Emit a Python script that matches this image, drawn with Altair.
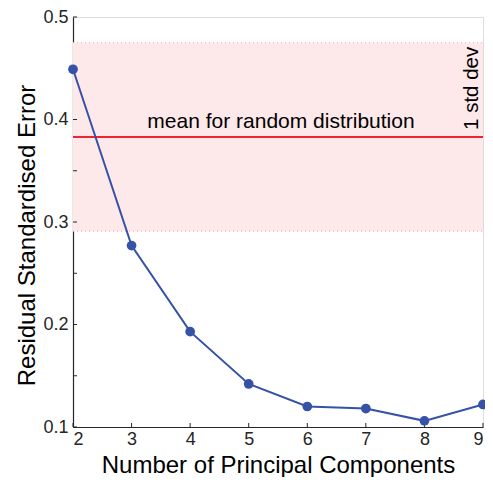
import altair as alt
import pandas as pd

components = [2, 3, 4, 5, 6, 7, 8, 9]
residual_error = [0.449, 0.277, 0.193, 0.142, 0.120, 0.118, 0.106, 0.122]
random_mean = 0.383
random_std_low = 0.291
random_std_high = 0.475
y_ticks = [0.1, 0.15, 0.2, 0.25, 0.3, 0.35, 0.4, 0.45, 0.5]
x_ticks = [2, 3, 4, 5, 6, 7, 8, 9]

FONT = "Liberation Sans"
AXIS_COLOR = "#262626"

df = pd.DataFrame({"n": components, "err": residual_error})
band_df = pd.DataFrame({"lo": [random_std_low], "hi": [random_std_high], "m": [random_mean]})
ytick_df = pd.DataFrame({"v": y_ticks})
xtick_df = pd.DataFrame({"v": x_ticks})

xscale = alt.Scale(domain=[2, 9], nice=False, zero=False)
yscale = alt.Scale(domain=[0.1, 0.5], nice=False, zero=False)

x_axis = alt.Axis(values=x_ticks, format="d", tickSize=0, labelPadding=3, labelFontSize=18,
                  labelFont=FONT, labelColor=AXIS_COLOR, domainColor=AXIS_COLOR,
                  domainWidth=1.2, grid=False, title="Number of Principal Components",
                  titleFont=FONT, titleFontSize=24, titleFontWeight="normal",
                  titleColor="black", titleBaseline="alphabetic", titleAlign="center",
                  titleX=205, titleY=45)
y_axis = alt.Axis(values=y_ticks, tickSize=0, labelPadding=5, labelFontSize=18,
                  labelFont=FONT, labelColor=AXIS_COLOR, domainColor=AXIS_COLOR,
                  domainWidth=1.2, grid=False,
                  labelExpr="abs(datum.value*10 - round(datum.value*10)) < 0.001 ? format(datum.value, '.1f') : ''",
                  title="Residual Standardised Error", titleFont=FONT, titleFontSize=24,
                  titleFontWeight="normal", titleColor="black", titleBaseline="alphabetic",
                  titleAlign="center", titleAngle=270, titleX=-39, titleY=218)

band = alt.Chart(band_df).mark_rect(color="#fde8ea").encode(
    y=alt.Y("lo:Q", scale=yscale, axis=y_axis),
    y2="hi:Q",
    x=alt.value(0), x2=alt.value(410),
)
band_edge_lo = alt.Chart(band_df).mark_rule(color="#f7a1aa", strokeDash=[1, 3], strokeWidth=1).encode(
    y=alt.Y("lo:Q", scale=yscale), x=alt.value(0), x2=alt.value(410))
band_edge_hi = alt.Chart(band_df).mark_rule(color="#f7a1aa", strokeDash=[1, 3], strokeWidth=1).encode(
    y=alt.Y("hi:Q", scale=yscale), x=alt.value(0), x2=alt.value(410))
mean_line = alt.Chart(band_df).mark_rule(color="#ee2530", strokeWidth=2).encode(
    y=alt.Y("m:Q", scale=yscale), x=alt.value(0), x2=alt.value(410))

mean_text = alt.Chart(band_df).mark_text(
    text="mean for random distribution", font=FONT, fontSize=21, color="black",
    align="center", baseline="alphabetic", dy=-9
).encode(y=alt.Y("m:Q", scale=yscale), x=alt.value(208))

std_text = alt.Chart(band_df).mark_text(
    text="1 std dev", font=FONT, fontSize=20.5, color="black",
    align="left", baseline="alphabetic", angle=270, dx=7
).encode(y=alt.Y("m:Q", scale=yscale), x=alt.value(405))

line = alt.Chart(df).mark_line(color="#3652a8", strokeWidth=2).encode(
    x=alt.X("n:Q", scale=xscale, axis=x_axis),
    y=alt.Y("err:Q", scale=yscale),
)
points = alt.Chart(df).mark_circle(color="#3652a8", size=95, opacity=1).encode(
    x=alt.X("n:Q", scale=xscale),
    y=alt.Y("err:Q", scale=yscale),
)

yticks = alt.Chart(ytick_df).mark_rule(color=AXIS_COLOR, strokeWidth=1).encode(
    y=alt.Y("v:Q", scale=yscale), x=alt.value(0), x2=alt.value(4))
xticks = alt.Chart(xtick_df).mark_rule(color=AXIS_COLOR, strokeWidth=1).encode(
    x=alt.X("v:Q", scale=xscale), y=alt.value(410), y2=alt.value(406))

chart = alt.layer(
    band, band_edge_lo, band_edge_hi, mean_line, mean_text, std_text,
    yticks, xticks, line, points
).properties(
    width=410, height=410,
    autosize=alt.AutoSizeParams(type="none"),
    padding={"left": 65, "top": 9, "right": 2, "bottom": 50},
).configure_view(stroke=None).configure(background="white")

chart.save("out.html", embed_options={"renderer": "svg", "actions": False})
